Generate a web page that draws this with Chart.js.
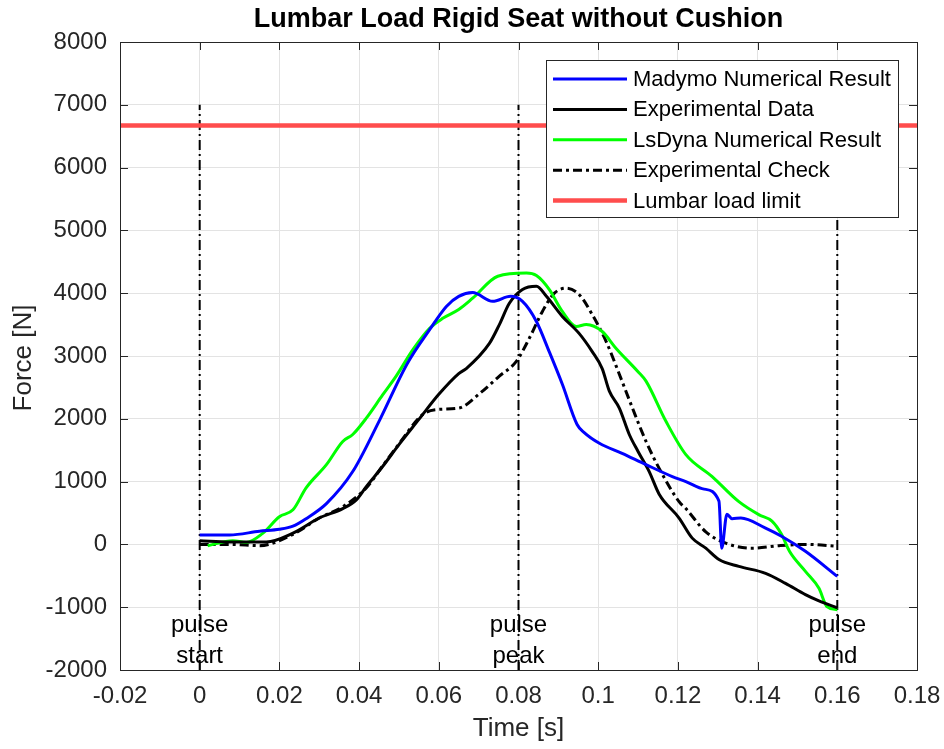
<!DOCTYPE html>
<html>
<head>
<meta charset="utf-8">
<script src="https://cdn.jsdelivr.net/npm/chart.js@4.4.0/dist/chart.umd.min.js"></script>
<style>
  html, body { margin: 0; padding: 0; background: #ffffff; }
  #wrap { width: 944px; height: 749px; }
</style>
</head>
<body>
<div id="wrap"><canvas id="c" width="944" height="749"></canvas></div>
<script>
// ---------------- DATA ----------------
const xTickValues = [-0.02, 0, 0.02, 0.04, 0.06, 0.08, 0.1, 0.12, 0.14, 0.16, 0.18];
const xTickLabels = ['-0.02', '0', '0.02', '0.04', '0.06', '0.08', '0.1', '0.12', '0.14', '0.16', '0.18'];
const yTickValues = [-2000, -1000, 0, 1000, 2000, 3000, 4000, 5000, 6000, 7000, 8000];
const yTickLabels = ['-2000', '-1000', '0', '1000', '2000', '3000', '4000', '5000', '6000', '7000', '8000'];

const madymoT = [0, 0.0075, 0.015, 0.02, 0.0234, 0.0267, 0.0318, 0.0384, 0.045, 0.052, 0.0577, 0.0619, 0.065, 0.0685, 0.0735, 0.078, 0.081, 0.0845, 0.0877, 0.091, 0.0947, 0.0965, 0.1003, 0.106, 0.112, 0.1186, 0.122, 0.1266, 0.1303, 0.131, 0.1323, 0.1336, 0.1358, 0.142, 0.146, 0.152, 0.16];
const madymoF = [150, 150, 210, 240, 290, 410, 650, 1160, 1960, 2870, 3420, 3790, 3950, 4010, 3870, 3950, 3870, 3550, 3070, 2550, 1910, 1780, 1610, 1450, 1270, 1080, 1000, 880, 690, -60, 480, 410, 420, 260, 130, -110, -510];

const expT = [0, 0.0075, 0.0167, 0.0234, 0.030, 0.0359, 0.0393, 0.0418, 0.0459, 0.050, 0.055, 0.060, 0.065, 0.0669, 0.0727, 0.0752, 0.0777, 0.081, 0.0845, 0.087, 0.091, 0.0952, 0.0985, 0.101, 0.1028, 0.1053, 0.1078, 0.110, 0.1128, 0.1153, 0.1203, 0.1236, 0.127, 0.1303, 0.1353, 0.142, 0.147, 0.152, 0.1554, 0.16];
const expF = [60, 40, 40, 180, 420, 570, 710, 920, 1240, 1590, 1990, 2390, 2720, 2800, 3200, 3500, 3840, 4060, 4110, 3950, 3630, 3360, 3070, 2800, 2440, 2170, 1750, 1480, 1160, 800, 420, 100, -60, -240, -350, -460, -620, -800, -900, -1010];

const lsdynaT = [0.002, 0.0083, 0.0117, 0.0158, 0.02, 0.0234, 0.0267, 0.0318, 0.0359, 0.0384, 0.0418, 0.0459, 0.0493, 0.0535, 0.0577, 0.061, 0.065, 0.0685, 0.0748, 0.082, 0.0845, 0.0877, 0.091, 0.0945, 0.097, 0.101, 0.1045, 0.110, 0.112, 0.117, 0.122, 0.1286, 0.1353, 0.1404, 0.1436, 0.146, 0.148, 0.152, 0.1554, 0.1574, 0.16];
const lsdynaF = [-20, 60, 30, 175, 440, 550, 900, 1270, 1640, 1750, 2010, 2380, 2680, 3100, 3440, 3600, 3740, 3920, 4270, 4320, 4280, 4060, 3710, 3470, 3500, 3390, 3120, 2750, 2600, 1960, 1430, 1080, 680, 470, 370, 160, -110, -430, -700, -990, -1040];

const checkT = [0, 0.008, 0.015, 0.0234, 0.030, 0.0359, 0.0418, 0.0459, 0.050, 0.056, 0.060, 0.065, 0.0702, 0.0752, 0.0794, 0.0827, 0.086, 0.089, 0.092, 0.0952, 0.0985, 0.102, 0.1053, 0.1086, 0.112, 0.1153, 0.1203, 0.122, 0.127, 0.132, 0.1386, 0.1454, 0.152, 0.16];
const checkF = [0, 0, -20, 160, 420, 600, 900, 1250, 1600, 2070, 2150, 2170, 2400, 2680, 2910, 3280, 3710, 4000, 4080, 3980, 3660, 3230, 2710, 2170, 1640, 1210, 680, 570, 200, 20, -60, -20, 0, -30];

const limitT = [-0.02, 0.18];
const limitF = [6672, 6672];

const pulseTimes = [0, 0.08, 0.16];
const pulseRange = [-2000, 7000];
const pulseLabels = [['pulse', 'start'], ['pulse', 'peak'], ['pulse', 'end']];

const seriesNames = ['Madymo Numerical Result', 'Experimental Data', 'LsDyna Numerical Result', 'Experimental Check', 'Lumbar load limit'];
const titleText = 'Lumbar Load Rigid Seat without Cushion';
const xTitle = 'Time [s]';
const yTitle = 'Force [N]';

// ---------------- BUILD ----------------
const FONT = '"Liberation Sans", Arial, Helvetica, sans-serif';
function pts(t, f) { return t.map((v, i) => ({ x: v, y: f[i] })); }

const legendStyles = [];
const datasets = [];
function addSeries(name, t, f, color, width, dash, inLegend, smooth) {
  datasets.push({
    label: name, data: pts(t, f), borderColor: color, backgroundColor: color,
    borderWidth: width, borderDash: dash, showLine: true, pointRadius: 0,
    fill: false, cubicInterpolationMode: smooth ? 'monotone' : 'default', tension: 0,
    borderJoinStyle: 'round', borderCapStyle: 'butt'
  });
  if (inLegend) legendStyles.push({ name, color, width, dash });
}
addSeries(seriesNames[0], madymoT, madymoF, '#0000ff', 3, [], true, true);
addSeries(seriesNames[1], expT, expF, '#000000', 3, [], true, true);
addSeries(seriesNames[2], lsdynaT, lsdynaF, '#00ff00', 3, [], true, true);
addSeries(seriesNames[3], checkT, checkF, '#000000', 3, [9, 4, 3, 4], true, true);
addSeries(seriesNames[4], limitT, limitF, '#ff4d4d', 4.5, [], true, false);
pulseTimes.forEach((pt, i) => {
  addSeries('pulse' + i, [pt, pt], pulseRange, '#000000', 2, [10, 4, 2, 4], false, false);
});

const decorPlugin = {
  id: 'decor',
  beforeDraw(chart) {
    const ctx = chart.ctx;
    ctx.save();
    ctx.fillStyle = '#ffffff';
    ctx.fillRect(0, 0, chart.width, chart.height);
    ctx.restore();
  },
  afterDatasetsDraw(chart) {
    const ctx = chart.ctx;
    const a = chart.chartArea;
    const xs = chart.scales.x, ys = chart.scales.y;
    ctx.save();
    // box
    ctx.strokeStyle = '#262626';
    ctx.lineWidth = 1;
    ctx.setLineDash([]);
    ctx.strokeRect(Math.round(a.left) + 0.5, Math.round(a.top) + 0.5, Math.round(a.right - a.left), Math.round(a.bottom - a.top));
    // inside ticks
    const tl = 8;
    ctx.beginPath();
    xTickValues.forEach(v => {
      const px = Math.round(xs.getPixelForValue(v)) + 0.5;
      ctx.moveTo(px, a.bottom); ctx.lineTo(px, a.bottom - tl);
      ctx.moveTo(px, a.top); ctx.lineTo(px, a.top + tl);
    });
    yTickValues.forEach(v => {
      const py = Math.round(ys.getPixelForValue(v)) + 0.5;
      ctx.moveTo(a.left, py); ctx.lineTo(a.left + tl, py);
      ctx.moveTo(a.right, py); ctx.lineTo(a.right - tl, py);
    });
    ctx.stroke();

    // pulse labels
    ctx.fillStyle = '#000000';
    ctx.font = '24px ' + FONT;
    ctx.textAlign = 'center';
    ctx.textBaseline = 'alphabetic';
    pulseTimes.forEach((pt, i) => {
      const px = xs.getPixelForValue(pt);
      ctx.fillText(pulseLabels[i][0], px, 632);
      ctx.fillText(pulseLabels[i][1], px, 663);
    });

    // legend
    const L = 546, T = 60, R = 898, B = 217;
    ctx.fillStyle = '#ffffff';
    ctx.fillRect(L, T, R - L, B - T);
    ctx.strokeStyle = '#262626';
    ctx.lineWidth = 1;
    ctx.strokeRect(L + 0.5, T + 0.5, R - L, B - T);
    ctx.font = '22px ' + FONT;
    ctx.textAlign = 'left';
    ctx.textBaseline = 'middle';
    legendStyles.forEach((s, i) => {
      const cy = 79 + i * 30.4;
      ctx.strokeStyle = s.color;
      ctx.lineWidth = s.width;
      ctx.setLineDash(s.dash);
      ctx.beginPath();
      ctx.moveTo(553, cy); ctx.lineTo(627, cy);
      ctx.stroke();
      ctx.setLineDash([]);
      ctx.fillStyle = '#000000';
      ctx.fillText(s.name, 633, cy + 1);
    });

    // title
    ctx.fillStyle = '#000000';
    ctx.font = 'bold 27px ' + FONT;
    ctx.textAlign = 'center';
    ctx.textBaseline = 'middle';
    ctx.fillText(titleText, (a.left + a.right) / 2, 20);

    // axis titles
    ctx.fillStyle = '#262626';
    ctx.font = '26px ' + FONT;
    ctx.fillText(xTitle, (a.left + a.right) / 2, 729);
    ctx.save();
    ctx.translate(24, 358);
    ctx.rotate(-Math.PI / 2);
    ctx.fillText(yTitle, 0, 0);
    ctx.restore();
    ctx.restore();
  }
};

new Chart(document.getElementById('c'), {
  type: 'scatter',
  data: { datasets },
  options: {
    responsive: false,
    animation: false,
    devicePixelRatio: 1,
    layout: { padding: { left: 0, top: 42, right: 27, bottom: 0 } },
    plugins: { legend: { display: false }, title: { display: false }, tooltip: { enabled: false } },
    scales: {
      x: {
        type: 'linear', min: -0.02, max: 0.18,
        afterBuildTicks(scale) { scale.ticks = xTickValues.map(v => ({ value: v })); },
        afterFit(scale) { scale.height = 79; scale.paddingLeft = 0; scale.paddingRight = 0; },
        ticks: {
          padding: 12, color: '#262626', font: { family: FONT, size: 24 },
          maxRotation: 0, autoSkip: false,
          callback(v) { const i = xTickValues.findIndex(t => Math.abs(t - v) < 1e-9); return i >= 0 ? xTickLabels[i] : ''; }
        },
        grid: { color: '#e3e3e3', lineWidth: 1, drawTicks: false },
        border: { display: false }
      },
      y: {
        type: 'linear', min: -2000, max: 8000,
        afterBuildTicks(scale) { scale.ticks = yTickValues.map(v => ({ value: v })); },
        afterFit(scale) { scale.width = 120; scale.paddingTop = 0; scale.paddingBottom = 0; },
        ticks: {
          padding: 13, color: '#262626', font: { family: FONT, size: 24 }, autoSkip: false,
          callback(v) { const i = yTickValues.indexOf(v); return i >= 0 ? yTickLabels[i] : ''; }
        },
        grid: { color: '#e3e3e3', lineWidth: 1, drawTicks: false },
        border: { display: false }
      }
    }
  },
  plugins: [decorPlugin]
});
</script>
</body>
</html>
